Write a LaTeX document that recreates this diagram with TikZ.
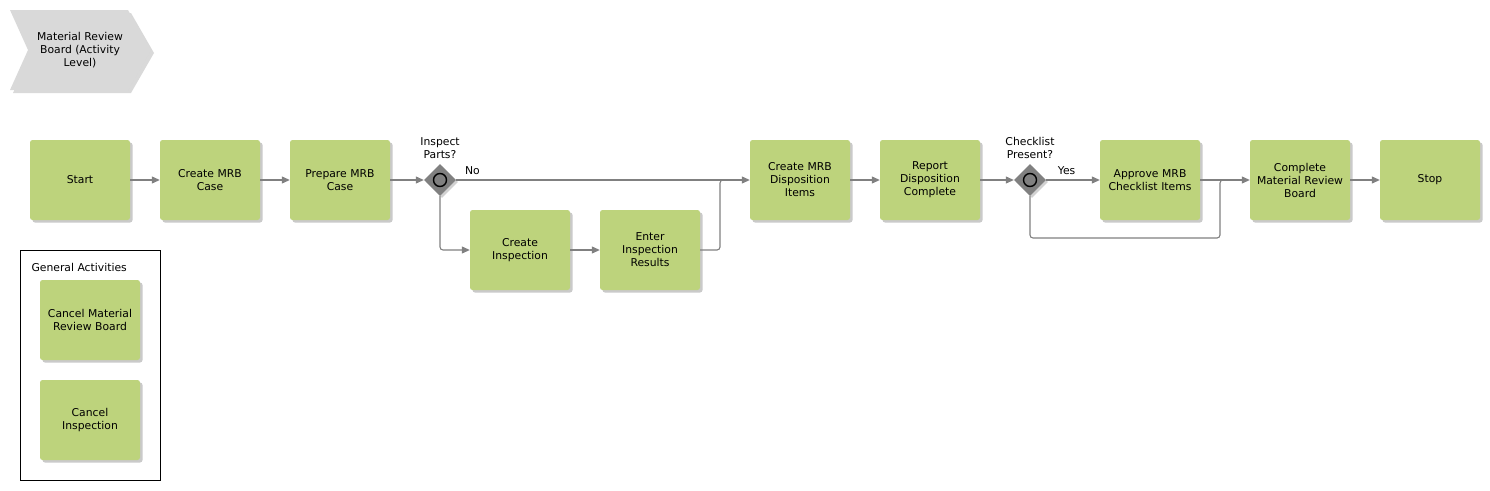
\documentclass[tikz,border=0pt]{standalone}
\usepackage{fontspec}
\setmainfont{DejaVu Sans}
\usetikzlibrary{shadows,shapes.geometric,arrows.meta}
\definecolor{actgreen}{HTML}{BDD37C}
\definecolor{linegray}{HTML}{808080}
\definecolor{chevgray}{HTML}{D9D9D9}
\tikzset{
  lbl/.style={font=\fontsize{10.8}{13}\selectfont, align=center},
  act/.style={draw=none, fill=actgreen, rounded corners=2.5pt, minimum width=100pt, minimum height=80pt, inner sep=0pt,
     text width=96pt, align=center, font=\fontsize{10.8}{13}\selectfont,
     drop shadow={shadow xshift=2.5pt, shadow yshift=-2.5pt, opacity=0.35, fill=black!60}},
  gw/.style={diamond, fill=linegray, draw=none, minimum width=32pt, minimum height=32pt, inner sep=0pt,
     drop shadow={shadow xshift=2pt, shadow yshift=-2pt, opacity=0.3, fill=black!60}},
  flow/.style={draw=linegray, line width=1.1pt, -{Triangle[length=8pt,width=7pt]}, rounded corners=3pt},
  plain/.style={draw=linegray, line width=1.1pt, rounded corners=3pt},
}
\begin{document}
\begin{tikzpicture}[x=1pt,y=-1pt]
\useasboundingbox (0,0) rectangle (1490,490);
% chevron
\fill[black!25, opacity=0.6] (13,13) -- (131,13) -- (154,53) -- (131,93) -- (13,93) -- (31,53) -- cycle;
\fill[chevgray] (10,10) -- (128,10) -- (151,50) -- (128,90) -- (10,90) -- (28,50) -- cycle;
\node[lbl] (title) at (80,50) {Material Review\\Board (Activity\\Level)};

% main row
\node[act] (start) at (80,180) {Start};
\node[act] (cmc) at (210,180) {Create MRB\\Case};
\node[act] (pmc) at (340,180) {Prepare MRB\\Case};
\node[gw] (g1) at (440,180) {};
\draw[black, line width=1.4pt, fill=linegray] (g1) circle (6.5pt);
\node[lbl, anchor=south] (g1l) at (440,162) {Inspect\\Parts?};
\node[act] (ci) at (520,250) {Create\\Inspection};
\node[act] (eir) at (650,250) {Enter\\Inspection\\Results};
\node[act] (cdi) at (800,180) {Create MRB\\Disposition\\Items};
\node[act] (rdc) at (930,180) {Report\\Disposition\\Complete};
\node[gw] (g2) at (1030,180) {};
\draw[black, line width=1.4pt, fill=linegray] (g2) circle (6.5pt);
\node[lbl, anchor=south] (g2l) at (1030,162) {Checklist\\Present?};
\node[act] (amc) at (1150,180) {Approve MRB\\Checklist Items};
\node[act] (cmr) at (1300,180) {Complete\\Material Review\\Board};
\node[act] (stop) at (1430,180) {Stop};

% connectors
\draw[flow] (start.east) -- (cmc.west);
\draw[flow] (cmc.east) -- (pmc.west);
\draw[flow] (pmc.east) -- (g1.west);
\draw[flow] (g1.east) -- node[lbl, pos=0.055, above=1pt] (no) {No} (cdi.west);
\draw[flow] (g1.south) |- (ci.west);
\draw[flow] (ci.east) -- (eir.west);
\coordinate (m1) at (720,180);
\draw[plain] (eir.east) -| (m1) -- (730,180);
\draw[flow] (cdi.east) -- (rdc.west);
\draw[flow] (rdc.east) -- (g2.west);
\draw[flow] (g2.east) -- node[lbl, pos=0.38, above=1pt] (yes) {Yes} (amc.west);
\draw[flow] (amc.east) -- (cmr.west);
\coordinate (b2) at (1220,238);
\draw[plain] (g2.south) |- (b2) -- (1220,180) -- (1230,180);
\draw[flow] (cmr.east) -- (stop.west);

% general activities
\draw[black, line width=0.8pt] (20,250) rectangle (160,480);
\node[lbl, anchor=west] (ga) at (28,267) {General Activities};
\node[act] (cmrb) at (90,320) {Cancel Material\\Review Board};
\node[act] (cin) at (90,420) {Cancel\\Inspection};
\end{tikzpicture}
\end{document}
